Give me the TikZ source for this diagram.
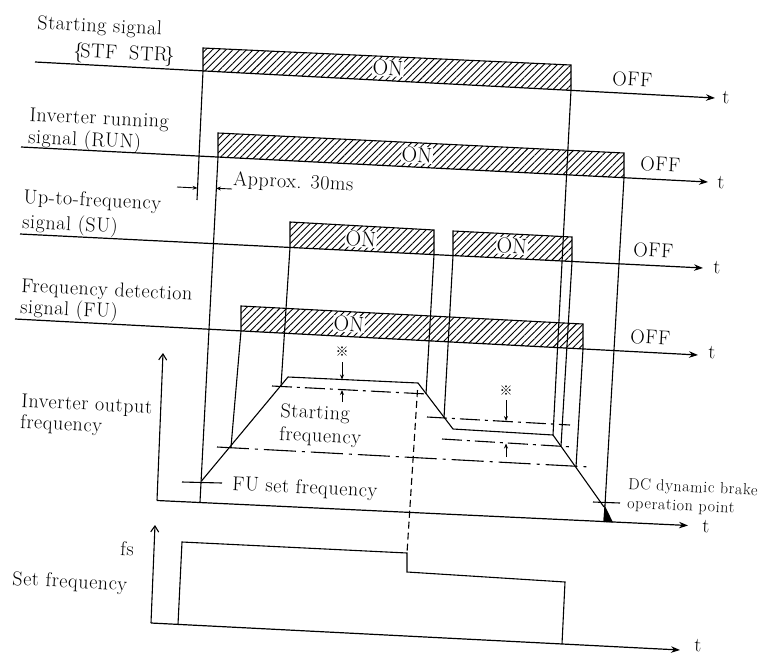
\documentclass[tikz,border=0pt]{standalone}
\usepackage{fontspec}
\usetikzlibrary{arrows.meta,patterns.meta}
\newfontfamily\cjk{Noto Sans CJK JP}
\newfontfamily\labfont[LetterSpace=3]{Latin Modern Roman}
\newfontfamily\smallfont[LetterSpace=4]{Latin Modern Roman}
\begin{document}
\begin{tikzpicture}[x=1pt,y=-1pt,
  ln/.style={line width=1.1pt},
  taxis/.style={line width=1.2pt,-{Stealth[length=9pt,width=6.5pt]}},
  yaxis/.style={line width=1.1pt,-{Straight Barb[length=6pt,width=8pt]}},
  bar/.style={line width=1.1pt, pattern={Lines[angle=45,distance=4.8pt,line width=0.9pt]}},
  lab/.style={font=\labfont\fontsize{20}{22}\selectfont, anchor=base west, inner sep=0pt, rotate=-2.8, align=left},
  smalllab/.style={font=\smallfont\fontsize{16}{19}\selectfont, anchor=base west, inner sep=0pt, rotate=-2.8, align=left},
  onlab/.style={font=\fontsize{21.5}{22}\selectfont, fill=white, inner sep=0.6pt, rotate=-2.8},
  dd/.style={line width=1.1pt, dash pattern=on 20pt off 5pt on 3pt off 5pt},
  ddl/.style={line width=1.1pt, dash pattern=on 32pt off 6pt on 3pt off 6pt},
  dsh/.style={line width=1.1pt, dash pattern=on 7pt off 4pt},
  tickarr/.style={-{Stealth[length=5pt,width=4pt]}, line width=0.9pt},
  refm/.style={font=\cjk\fontsize{13}{13}\selectfont, inner sep=0pt}
]
\fill[white] (0,0) rectangle (760,656);
\useasboundingbox (0,0) rectangle (760,656);

% ---- time axes of the signals
\draw[taxis] (35,62) -- (715,98);
\draw[taxis] (21,147) -- (708,182);
\draw[taxis] (20,234) -- (703,268);
\draw[taxis] (15,319) -- (698,355);

% ---- hatched ON bars
\draw[bar] (203,71) -- (203,48) -- (571,65) -- (571,90);
\draw[bar] (218,157) -- (218,133) -- (624,153) -- (624,177.7);
\draw[bar] (290,247.4) -- (290,222) -- (434,230) -- (434,254.6);
\draw[bar] (453,255.6) -- (453,231) -- (572,237) -- (572,261.5);
\draw[bar] (241,331) -- (241,306) -- (583,324) -- (583,349);

% ---- vertical timing lines
\draw[ln] (203,71) -- (197,200);
\draw[ln] (218,157) -- (200,502);
\draw[ln] (241,331) -- (231,447);
\draw[ln] (290,247.4) -- (281,386);
\draw[ln] (434,254.6) -- (426,394);
\draw[ln] (453,255.6) -- (444,418);
\draw[ln] (571,90) -- (553,435);
\draw[ln] (572,261.5) -- (561,446);
\draw[ln] (583,349) -- (576,467);
\draw[ln] (624,177.7) -- (604,522);

% ---- ON labels
\node[onlab] (on1) at (388,68) {ON};
\node[onlab] (on2) at (417,155) {ON};
\node[onlab] (on3) at (361,239) {ON};
\node[onlab] (on4) at (512,246) {ON};
\node[onlab] (on5) at (349,324) {ON};

% ---- approx 30 ms
\draw[tickarr] (177,187) -- (197.5,188);
\draw[tickarr] (232,189) -- (216,188.3);

% ---- inverter output frequency
\draw[yaxis] (157,500.5) -- (163,353);
\draw[taxis] (157,500.5) -- (688,525.5);
\draw[ln] (201.5,481) -- (288,377) -- (418,383) -- (453,429) -- (553,435) -- (604,507);
\fill (604.5,505) -- (603.5,522) -- (613,522.4) -- cycle;
\draw[dd] (272,386) -- (427,394);
\draw[dd] (427,417) -- (570,425);
\draw[dd] (442,439) -- (573,447);
\draw[ddl] (217,447) -- (590,467);
\draw[ln] (182,482) -- (222,483);
\draw[ln] (593,502) -- (620,503);
\draw[dsh] (417.5,390) -- (407,553);

\draw[tickarr] (342,362) -- (342,379.5);
\draw[tickarr] (342,402) -- (342,390);
\node[refm] (rm1) at (342,352) {※};
\draw[tickarr] (506,400) -- (506,421);
\draw[tickarr] (506,457) -- (506,443.5);
\node[refm] (rm2) at (506,391) {※};

% ---- set frequency
\draw[yaxis] (151,623) -- (155,525);
\draw[taxis] (151,623) -- (680,650);
\draw[ln] (178,624.4) -- (182,542) -- (407,553) -- (407,572) -- (565,582) -- (562,644);

% ---- texts (base anchor = baseline of the last line)
\node[lab] (t1) at (37,29) {Starting signal};
\node[lab] (t2) at (73,57) {\{\kern-3pt STF\hspace{12pt}STR\kern-3pt\}};
\node[lab] (t3) at (28,143) {Inverter running\\signal (RUN)};
\node[lab] (t5) at (233,185) {Approx. 30ms};
\node[lab] (t6) at (22,228) {Up-to-frequency\\[3pt]signal (SU)};
\node[lab] (t8) at (20,313) {Frequency detection\\[-1pt]signal (FU)};
\node[lab] (t10) at (20,428) {Inverter output\\[-1pt]frequency};
\node[lab] (t12) at (279,440) {Starting\\[1pt]frequency};
\node[lab] (t14) at (232,490) {FU set frequency};
\node[lab] (t15) at (120,555) {fs};
\node[lab] (t16) at (12,585) {Set frequency};
\node[smalllab] (t17) at (627,508) {DC dynamic brake\\operation point};

\node[lab] (off1) at (612,85) {OFF};
\node[lab] (off2) at (640,170) {OFF};
\node[lab] (off3) at (633,256) {OFF};
\node[lab] (off4) at (630,343) {OFF};

\node[lab] (ta) at (722,103) {t};
\node[lab] (tb) at (717,188) {t};
\node[lab] (tc) at (713,273) {t};
\node[lab] (td) at (708,358) {t};
\node[lab] (te) at (702,532) {t};
\node[lab] (tf) at (694,651) {t};
\end{tikzpicture}
\end{document}
